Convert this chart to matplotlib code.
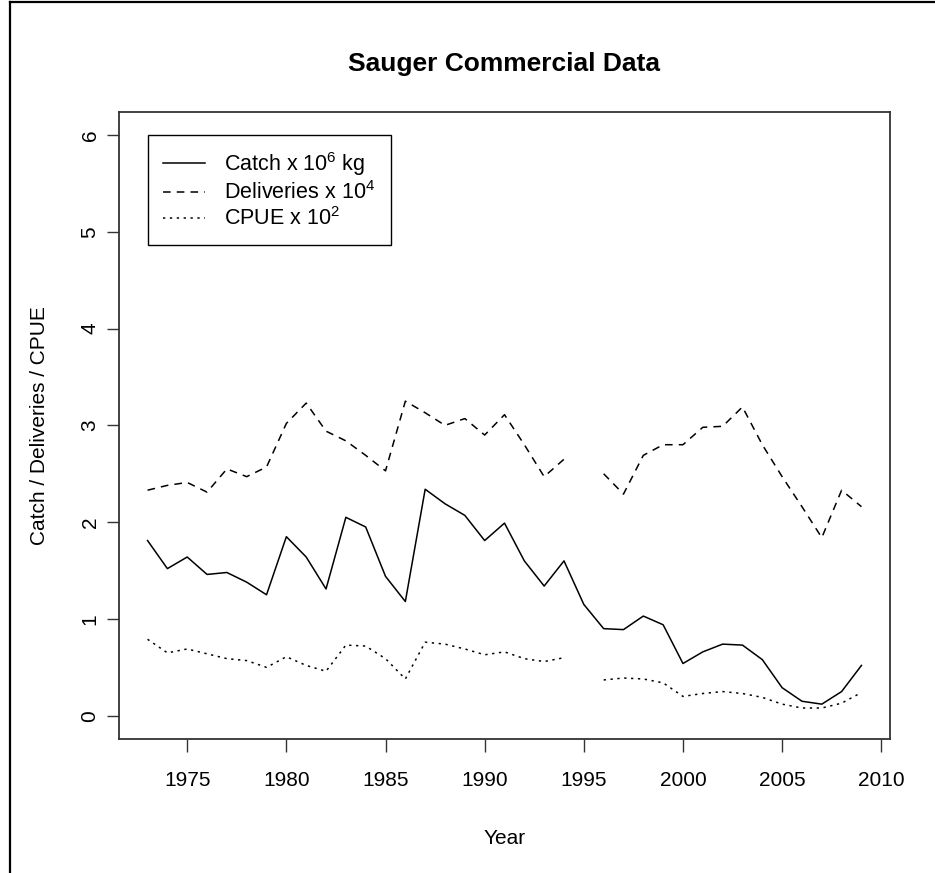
import numpy as np
import matplotlib.pyplot as plt
from matplotlib.lines import Line2D

plt.rcParams['font.family'] = ['Liberation Sans', 'DejaVu Sans']
plt.rcParams['mathtext.default'] = 'regular'

# data
years = np.arange(1973, 2010)
catch = [1.81, 1.52, 1.64, 1.46, 1.48, 1.38, 1.25, 1.85, 1.64, 1.31,
         2.05, 1.95, 1.44, 1.18, 2.34, 2.19, 2.07, 1.81, 1.99, 1.60,
         1.34, 1.60, 1.15, 0.90, 0.89, 1.03, 0.94, 0.54, 0.66, 0.74,
         0.73, 0.58, 0.29, 0.15, 0.12, 0.25, 0.52]
deliveries = [2.33, 2.38, 2.41, 2.31, 2.55, 2.47, 2.57, 3.02, 3.23, 2.94,
              2.84, 2.69, 2.53, 3.25, 3.13, 3.00, 3.07, 2.90, 3.11, 2.80,
              2.47, 2.65, np.nan, 2.50, 2.29, 2.69, 2.80, 2.80, 2.98, 2.99,
              3.19, 2.80, 2.47, 2.16, 1.84, 2.33, 2.16]
cpue = [0.79, 0.65, 0.69, 0.64, 0.59, 0.57, 0.50, 0.61, 0.52, 0.46,
        0.73, 0.72, 0.59, 0.38, 0.76, 0.74, 0.69, 0.63, 0.66, 0.59,
        0.56, 0.60, np.nan, 0.37, 0.39, 0.38, 0.34, 0.20, 0.23, 0.25,
        0.23, 0.19, 0.12, 0.08, 0.08, 0.13, 0.24]

W, H = 935, 873
fig = plt.figure(figsize=(W / 100, H / 100), dpi=100)
ax = fig.add_axes([119 / W, 1 - 739 / H, (890 - 119) / W, (739 - 111.7) / H])

lw = 1.1
ax.plot(years, catch, color='black', lw=lw, ls='-', label=r'Catch x 10$^{6}$ kg')
ax.plot(years, deliveries, color='black', lw=lw, ls=(0, (5, 4)), label=r'Deliveries x 10$^{4}$')
ax.plot(years, cpue, color='black', lw=lw, ls=(0, (1.5, 3)), label=r'CPUE x 10$^{2}$')

ax.set_xlim(1971.56, 2010.44)
ax.set_ylim(-0.24, 6.24)
ax.set_xticks(np.arange(1975, 2011, 5))
ax.set_yticks(np.arange(0, 7, 1))
ax.tick_params(direction='out', length=9, width=1, color='#333333', labelsize=15)
ax.tick_params(axis='x', pad=14)
ax.tick_params(axis='y', pad=5)
plt.setp(ax.get_yticklabels(), rotation=90, va='center')
for s in ax.spines.values():
    s.set_color('#333333')
    s.set_linewidth(1.3)

ax.set_title('Sauger Commercial Data', fontsize=19, fontweight='bold', pad=29)
ax.set_xlabel('Year', fontsize=15, labelpad=28)
ax.set_ylabel('Catch / Deliveries / CPUE', fontsize=15, labelpad=23)

leg = ax.legend(loc='upper left', bbox_to_anchor=(0.0376, 0.9629), borderaxespad=0,
                fontsize=15.5, handlelength=1.95, handletextpad=0.9, fancybox=False,
                framealpha=1, edgecolor='black', borderpad=0.7, labelspacing=0.15)
leg.get_frame().set_linewidth(1.0)

# outer frame lines (top and left edges)
fig.add_artist(Line2D([9.5 / W, 1], [1 - 2 / H, 1 - 2 / H], color='black', lw=1.6,
                      transform=fig.transFigure))
fig.add_artist(Line2D([9.5 / W, 9.5 / W], [0, 1 - 2 / H], color='black', lw=1.6,
                      transform=fig.transFigure))

fig.savefig('out.png', dpi=100)
